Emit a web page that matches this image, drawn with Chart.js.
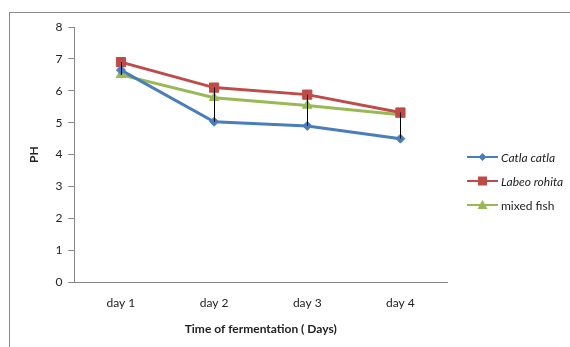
<!DOCTYPE html>
<html><head><meta charset="utf-8">
<script src="https://cdn.jsdelivr.net/npm/chart.js@4"></script>
<style>
html,body{margin:0;padding:0;background:#fff;}
#wrap{position:relative;width:570px;height:347px;}
#frame{position:absolute;left:9px;top:12px;width:561px;height:335px;border-top:1px solid #8c8c8c;border-left:1px solid #8c8c8c;box-sizing:border-box;pointer-events:none;}
#legend{position:absolute;left:467px;top:145px;font-family:Lato,"Liberation Sans",sans-serif;font-size:12px;color:#222;}
.item{display:flex;align-items:center;height:24px;}
.item canvas{margin-right:3px;}
</style></head>
<body><div id="wrap"><canvas id="c" width="570" height="347"></canvas><div id="frame"></div><div id="legend"></div></div>
<script>
const categories = ["day 1","day 2","day 3","day 4"];
const catla = [6.65, 5.03, 4.9, 4.5];
const labeo = [6.9, 6.1, 5.88, 5.32];
const mixed = [6.5, 5.78, 5.54, 5.25];
const seriesNames = ["Catla catla","Labeo rohita","mixed fish"];
const yTicks = [0,1,2,3,4,5,6,7,8];

const colors = ["#4a7ebb","#be4b48","#98b954"];
const styles = ["rectRot","rect","triangle"];
const radii = [4.5,6.5,5.5];
const FONT = "Lato, 'Liberation Sans', sans-serif";

const hiLo = {
  id:'hiLo',
  afterDatasetsDraw(chart){
    const ctx = chart.ctx;
    const metas = chart.data.datasets.map((d,i)=>chart.getDatasetMeta(i));
    ctx.save();
    ctx.strokeStyle = "#000";
    ctx.lineWidth = 1;
    for (let j=0;j<categories.length;j++){
      const ys = metas.map(m=>m.data[j].y);
      const x = metas[0].data[j].x;
      ctx.beginPath();
      ctx.moveTo(Math.round(x)+0.5, Math.min(...ys));
      ctx.lineTo(Math.round(x)+0.5, Math.max(...ys));
      ctx.stroke();
    }
    ctx.restore();
  }
};

const datasets = [catla,labeo,mixed].map((d,i)=>({
  label: seriesNames[i], data: d,
  borderColor: colors[i], backgroundColor: colors[i],
  borderWidth: 3, pointStyle: styles[i], pointRadius: radii[i],
  pointBorderWidth: 1, pointBorderColor: colors[i], tension: 0
}));

new Chart(document.getElementById('c'), {
  type:'line',
  data:{labels:categories, datasets},
  plugins:[hiLo],
  options:{
    responsive:false, animation:false,
    layout:{padding:{left:27,right:123,top:27,bottom:11}},
    plugins:{legend:{display:false}, tooltip:{enabled:false}},
    scales:{
      x:{
        offset:true,
        grid:{display:false, drawTicks:false},
        border:{display:true,color:"#868686",width:1},
        ticks:{color:"#222",font:{family:FONT,size:12},padding:14},
        title:{display:true,text:"Time of fermentation ( Days)",color:"#222",font:{family:FONT,size:12,weight:"bold"},padding:{top:-3,bottom:0}}
      },
      y:{
        min:0,max:8,
        afterBuildTicks(s){ s.ticks = yTicks.map(v=>({value:v})); },
        grid:{drawOnChartArea:false, drawTicks:true, tickLength:6, color:"#868686"},
        border:{display:true,color:"#868686",width:1},
        ticks:{color:"#222",font:{family:FONT,size:12},padding:6},
        title:{display:true,text:"PH",color:"#222",font:{family:FONT,size:12,weight:"bold"},padding:{top:0,bottom:8}}
      }
    }
  }
});

// HTML legend built from the series arrays
const leg = document.getElementById('legend');
seriesNames.forEach((n,i)=>{
  const it = document.createElement('div'); it.className='item';
  const cv = document.createElement('canvas'); cv.width=31; cv.height=14;
  const c = cv.getContext('2d');
  c.strokeStyle=colors[i]; c.lineWidth=2; c.beginPath(); c.moveTo(0,7); c.lineTo(31,7); c.stroke();
  c.fillStyle=colors[i]; c.beginPath();
  if(i===0){ c.moveTo(15.5,3); c.lineTo(19.5,7); c.lineTo(15.5,11); c.lineTo(11.5,7); c.closePath(); }
  else if(i===1){ c.rect(11,2.5,9,9); }
  else { c.moveTo(15.5,2); c.lineTo(20.5,11); c.lineTo(10.5,11); c.closePath(); }
  c.fill();
  const sp = document.createElement('span'); sp.textContent=n;
  if(i<2) sp.style.fontStyle='italic';
  it.appendChild(cv); it.appendChild(sp); leg.appendChild(it);
});
</script></body></html>
